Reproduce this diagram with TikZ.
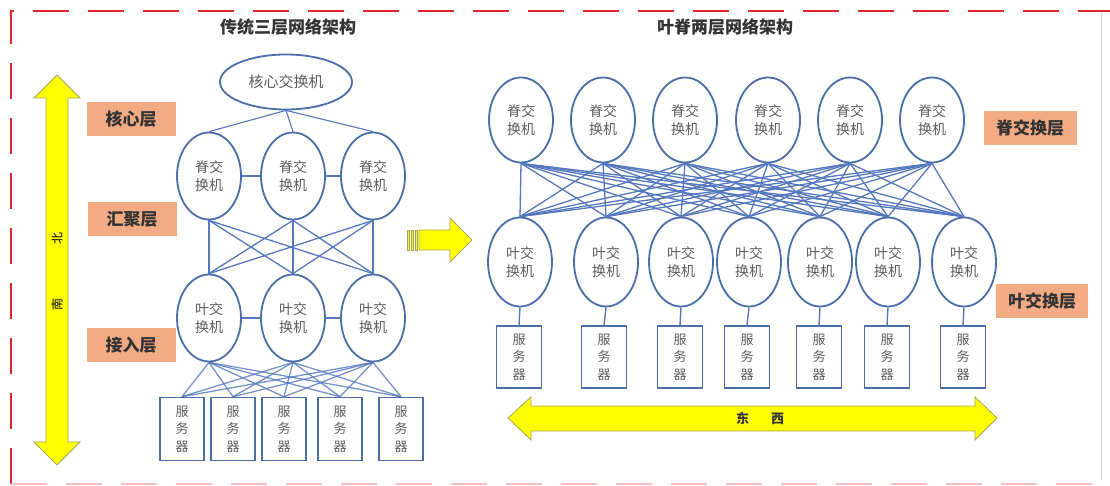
\documentclass[tikz,border=0pt]{standalone}
\usepackage{fontspec}
\setmainfont{Noto Sans CJK SC}
\usetikzlibrary{shapes.geometric}
\definecolor{borde}{HTML}{4A6EA8}
\definecolor{enlace}{HTML}{5477BE}
\definecolor{rotulo}{HTML}{F2AB84}
\definecolor{flecha}{HTML}{FFFF00}
\definecolor{contorno}{HTML}{A4A45A}
\definecolor{marco}{HTML}{E0262B}
\definecolor{texto}{HTML}{5C5C5C}

\begin{document}
\begin{tikzpicture}[x=1pt,y=-1pt,
   conmut/.style={ellipse,draw=borde,line width=1.8pt,fill=white,minimum width=64pt,minimum height=87pt,inner sep=0pt,align=center,text=texto,font=\fontsize{14}{18}\selectfont},
   nucleo/.style={conmut,minimum width=132pt,minimum height=55pt,font=\fontsize{15}{18}\selectfont},
   servidor/.style={draw=borde,line width=1.6pt,fill=white,minimum width=44pt,minimum height=63pt,inner sep=0pt,align=center,text=texto,font=\fontsize{13}{17.5}\selectfont},
   capa/.style={fill=rotulo,minimum width=89pt,minimum height=34pt,inner sep=0pt,text=black!80,font=\bfseries\fontsize{17}{20}\selectfont},
   titulo/.style={text=black!80,font=\bfseries\fontsize{17}{20}\selectfont},
   cable/.style={draw=enlace,line width=1.3pt},
   flechaf/.style={fill=flecha,draw=contorno,line width=0.8pt}]
  \useasboundingbox (0,0) rectangle (1110,486);
  % marco discontinuo
  \draw[marco,line width=2.5pt,dash pattern=on 36pt off 19pt] (11,484) -- (11,11) -- (1110,11);
  \draw[marco!30,line width=2.5pt,dash pattern=on 36pt off 19pt] (11,484) -- (1110,484);
  \draw[black!18,line width=0.6pt] (1101,13) -- (1101,480);
  % --- titulos ---
  \node[titulo] (tit3) at (288,27) {传统三层网络架构};
  \node[titulo] (tit2) at (725,27) {叶脊两层网络架构};
  % --- flecha norte-sur ---
  \draw[flechaf] (57,75) -- (80,98) -- (68,98) -- (68,442) -- (80,442) -- (57,465)
    -- (34,442) -- (46,442) -- (46,98) -- (34,98) -- cycle;
  \node[rotate=90,font=\fontsize{12}{14}\selectfont] (ns) at (57,271) {南\hspace{54pt}北};
  % --- capas (izquierda) ---
  \node[capa] (cnucleo) at (131,119) {核心层};
  \node[capa] (cagr) at (132,219) {汇聚层};
  \node[capa] (cacc) at (131,345) {接入层};
  % --- arquitectura de tres capas ---
  \node[nucleo] (nuc) at (286,82) {核心交换机};
  \foreach \n/\x in {1/209,2/293,3/373}{
    \node[conmut] (agr\n) at (\x,176) {脊交\\换机};
    \node[conmut] (acc\n) at (\x,318) {叶交\\换机};
  }
  \foreach \n/\x in {1/182,2/233,3/284,4/340,5/401}
    \node[servidor] (sa\n) at (\x,429) {服\\务\\器};
  \foreach \i in {1,2,3}{
    \draw[cable,line width=1.1pt] (nuc.south) -- (agr\i.north);
    \foreach \j in {1,2,3}
      \draw[cable] (agr\i.south) -- (acc\j.north);
    \foreach \j in {1,...,5}
      \draw[cable,draw opacity=0.8] (acc\i.south) -- (sa\j.north);
  }
  \draw[cable,line width=1.7pt] (agr1) -- (agr2) (agr2) -- (agr3);
  \draw[cable,line width=1.7pt] (acc1) -- (acc2) (acc2) -- (acc3);
  % --- flecha de paso ---
  \draw[flechaf] (419,230) -- (450,230) -- (450,218) -- (472,240) -- (450,262)
    -- (450,250) -- (419,250) -- cycle;
  \foreach \x in {407,411,415}
    \draw[flechaf,line width=0.5pt] (\x,230) rectangle (\x+2.5,250);
  % --- arquitectura hoja-espina ---
  \foreach \n/\x in {1/521,2/603,3/685,4/768,5/850,6/932}
    \node[conmut,minimum height=85pt] (esp\n) at (\x,120) {脊交\\换机};
  \foreach \n/\x/\s in {1/520/519,2/606/604,3/681/680,4/749/747,5/820/819,6/888/887,7/964/963}{
    \node[conmut,minimum height=89pt] (hoja\n) at (\x,262) {叶交\\换机};
    \node[servidor,minimum height=62pt,minimum width=45pt] (sb\n) at (\s,357) {服\\务\\器};
    \draw[cable,line width=1.4pt] (hoja\n.south) -- (sb\n.north);
  }
  \foreach \i in {1,...,6}
    \foreach \j in {1,...,7}
      \draw[cable] (esp\i.south) -- (hoja\j.north);
  \node[capa,minimum width=93pt] (cesp) at (1030,128) {脊交换层};
  \node[capa,minimum width=92pt] (choja) at (1042,301) {叶交换层};
  % --- flecha este-oeste ---
  \draw[flechaf] (508,418) -- (531,397) -- (531,406) -- (975,406) -- (975,397) -- (997,418)
    -- (975,440) -- (975,431) -- (531,431) -- (531,440) -- cycle;
  \node[font=\bfseries\fontsize{13}{15}\selectfont,text=black!80] (eo) at (760,418) {东\hspace{22pt}西};
\end{tikzpicture}
\end{document}
